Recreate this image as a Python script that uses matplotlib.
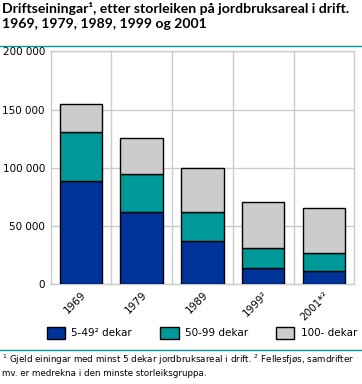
import numpy as np
import matplotlib.pyplot as plt
from matplotlib.patches import Patch
from matplotlib.lines import Line2D

years = ["1969", "1979", "1989", "1999²", "2001*²"]
small = [88500, 61800, 36800, 14400, 11800]      # 5-49 dekar
medium = [42300, 32800, 25000, 16400, 14700]     # 50-99 dekar
large = [24100, 31000, 37900, 39600, 38800]      # 100- dekar

labels = ["5-49² dekar", "50-99 dekar", "100- dekar"]
colors = ["#003399", "#009999", "#cccccc"]

plt.rcParams["font.family"] = ["DejaVu Sans"]

fig = plt.figure(figsize=(3.62, 3.84), dpi=100)
ax = fig.add_axes([50.5 / 362, 1 - 284.3 / 384, (354.3 - 50.5) / 362, (284.3 - 51.3) / 384])

x = np.arange(len(years))
b1 = np.array(small)
b2 = np.array(medium)
b3 = np.array(large)
ax.bar(x, b1, width=0.7, color=colors[0], edgecolor="black", linewidth=1, zorder=3)
ax.bar(x, b2, width=0.7, bottom=b1, color=colors[1], edgecolor="black", linewidth=1, zorder=3)
ax.bar(x, b3, width=0.7, bottom=b1 + b2, color=colors[2], edgecolor="black", linewidth=1, zorder=3)

ax.set_xlim(-0.5, len(years) - 0.5)
ax.set_ylim(0, 200000)
ax.set_yticks([0, 50000, 100000, 150000, 200000])
ax.set_yticklabels(["0", "50 000", "100 000", "150 000", "200 000"], fontsize=7.5)
ax.set_xticks(x)
ax.set_xticklabels(years, rotation=45, ha="right", rotation_mode="anchor", fontsize=7.5)
ax.set_xticks(np.arange(len(years) - 1) + 0.5, minor=True)
ax.tick_params(axis="both", length=0, pad=4)
ax.tick_params(axis="x", which="minor", length=0)
ax.grid(axis="y", color="#cccccc", linewidth=1, zorder=0)
ax.grid(axis="x", which="minor", color="#cccccc", linewidth=1, zorder=0)
for s in ax.spines.values():
    s.set_color("#cccccc")
    s.set_linewidth(1)

fig.text(2 / 362, 1 - 2 / 384,
         "Driftseiningar¹, etter storleiken på jordbruksareal i drift.\n1969, 1979, 1989, 1999 og 2001",
         fontsize=10.1, family=["Lato", "DejaVu Sans"], fontweight="bold",
         va="top", ha="left", linespacing=1.3)
fig.add_artist(Line2D([0, 1], [1 - 46 / 384, 1 - 46 / 384], color="#009999", linewidth=1))
fig.add_artist(Line2D([0, 1], [1 - 350 / 384, 1 - 350 / 384], color="#009999", linewidth=1))

handles = [Patch(facecolor=c, edgecolor="black", linewidth=1) for c in colors]
fig.legend(handles, labels, loc="center left", bbox_to_anchor=(47 / 362, 1 - 333 / 384),
           ncol=3, frameon=False, fontsize=7.5, handlelength=1.75, handleheight=1.4,
           columnspacing=2.7, handletextpad=0.6, borderpad=0, borderaxespad=0)

fig.text(2 / 362, 1 - 353 / 384,
         "$^1$ Gjeld einingar med minst 5 dekar jordbruksareal i drift. $^2$ Fellesfjøs, samdrifter\nmv. er medrekna i den minste storleiksgruppa.",
         fontsize=6.3, va="top", ha="left", linespacing=1.25)

fig.savefig("out.png", dpi=100)
